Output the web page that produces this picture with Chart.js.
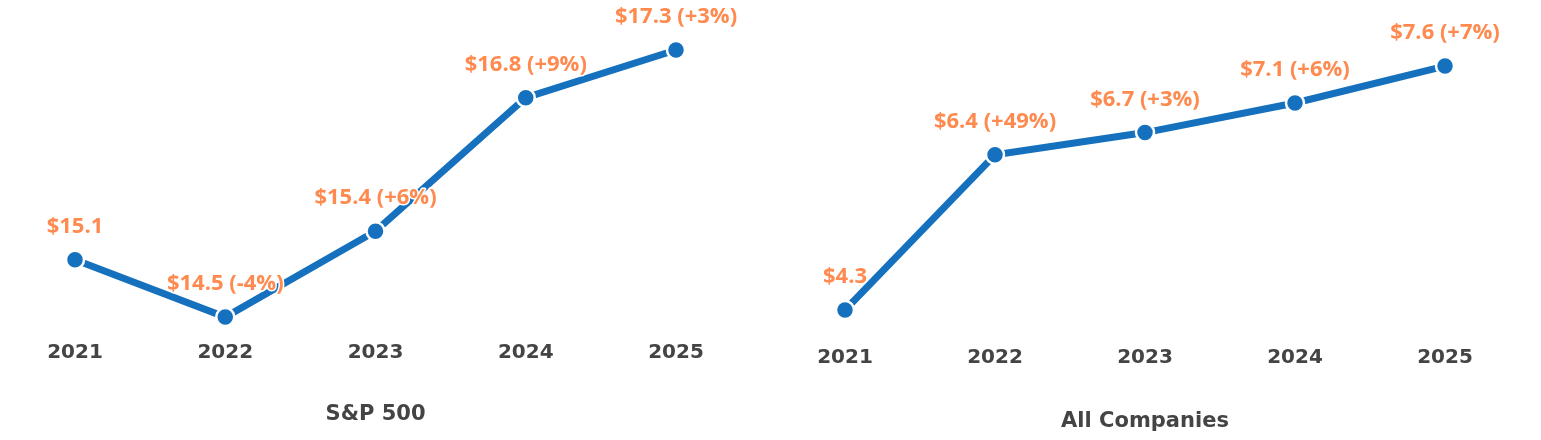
<!DOCTYPE html>
<html>
<head>
<meta charset="utf-8">
<script src="https://cdn.jsdelivr.net/npm/chart.js@4.4.1/dist/chart.umd.min.js"></script>
<style>
  html, body { margin: 0; padding: 0; background: #ffffff; }
  .wrap { position: absolute; top: 0; height: 440px; }
  #w1 { left: 0; width: 760px; }
  #w2 { left: 770px; width: 771px; }
</style>
</head>
<body>
<div class="wrap" id="w1"><canvas id="c1"></canvas></div>
<div class="wrap" id="w2"><canvas id="c2"></canvas></div>
<script>
const years = ['2021', '2022', '2023', '2024', '2025'];
const spValues = [15.1, 14.5, 15.4, 16.8, 17.3];
const spChanges = [null, -4, 6, 9, 3];
const allValues = [4.3, 6.4, 6.7, 7.1, 7.6];
const allChanges = [null, 49, 3, 6, 7];
const titles = ['S&P 500', 'All Companies'];

const BLUE = '#1570BE';
const ORANGE = '#FF8A4F';
const GREY = '#444444';
const FONT = "'DejaVu Sans', sans-serif";
const LABEL_FONT = "'Open Sans', sans-serif";

const labelPlugin = {
  id: 'pointLabels',
  afterDatasetsDraw(chart, args, opts) {
    const ctx = chart.ctx;
    const meta = chart.getDatasetMeta(0);
    const ds = chart.data.datasets[0];
    ctx.save();
    ctx.font = 'bold 22px ' + LABEL_FONT;
    ctx.textAlign = 'center';
    ctx.textBaseline = 'middle';
    ctx.lineJoin = 'round';
    meta.data.forEach((pt, i) => {
      const v = ds.data[i];
      const ch = opts.changes[i];
      let txt = '$' + v.toFixed(1);
      if (ch !== null) txt += ' (' + (ch > 0 ? '+' : '') + ch + '%)';
      const y = pt.y - 33;
      ctx.strokeStyle = '#ffffff';
      ctx.lineWidth = 3;
      ctx.strokeText(txt, pt.x, y);
      ctx.fillStyle = ORANGE;
      ctx.fillText(txt, pt.x, y);
    });
    ctx.restore();
  }
};

function makeChart(id, values, changes, title, yMin, yMax, pad, titlePadTop) {
  return new Chart(document.getElementById(id), {
    type: 'line',
    data: {
      labels: years,
      datasets: [{
        data: values,
        borderColor: BLUE,
        borderWidth: 7,
        backgroundColor: BLUE,
        pointBackgroundColor: BLUE,
        pointBorderColor: '#ffffff',
        pointBorderWidth: 2.5,
        pointRadius: 9,
        pointHoverRadius: 9,
        tension: 0,
        clip: false
      }]
    },
    options: {
      responsive: true,
      maintainAspectRatio: false,
      animation: false,
      events: [],
      layout: { padding: pad, autoPadding: false },
      plugins: {
        legend: { display: false },
        tooltip: { enabled: false },
        pointLabels: { changes: changes }
      },
      scales: {
        x: {
          offset: false,
          grid: { display: false, drawTicks: false },
          border: { display: false },
          ticks: { color: GREY, font: { family: FONT, size: 20, weight: 'bold' }, padding: 10.5 },
          title: {
            display: true,
            text: title,
            color: GREY,
            font: { family: FONT, size: 21, weight: 'bold' },
            padding: { top: titlePadTop, bottom: 0 }
          }
        },
        y: {
          display: false,
          min: yMin,
          max: yMax
        }
      }
    },
    plugins: [labelPlugin]
  });
}

makeChart('c1', spValues, spChanges, titles[0], 14.364, 17.824,
  { left: 75, right: 84, top: 0, bottom: 12.4 }, 27.4);
makeChart('c2', allValues, allChanges, titles[1], 3.962, 8.493,
  { left: 75, right: 96, top: 0, bottom: 5.4 }, 29.4);
</script>
</body>
</html>
